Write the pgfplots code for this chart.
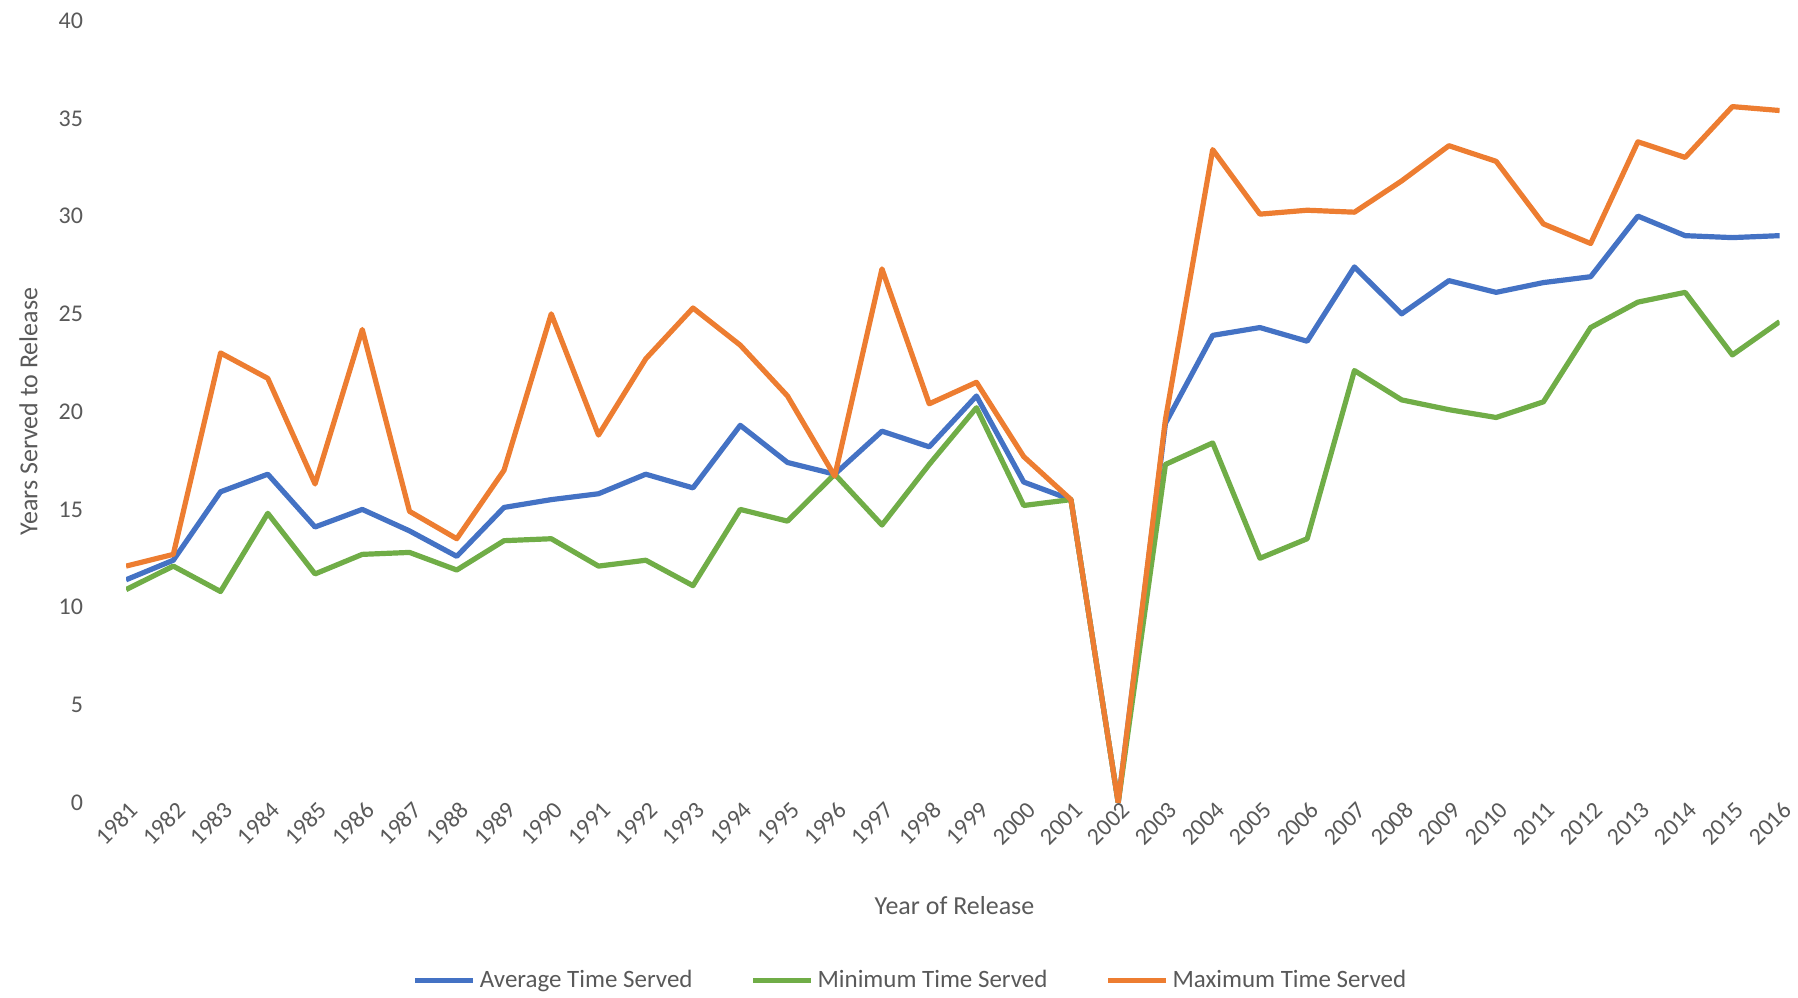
\documentclass[border=0pt]{standalone}
\usepackage{pgfplots}
\pgfplotsset{compat=1.18}
\usepackage{fontspec}
\setmainfont{Carlito}
\definecolor{txt}{HTML}{595959}
\definecolor{cblue}{HTML}{4472C4}
\definecolor{cgreen}{HTML}{70AD47}
\definecolor{corange}{HTML}{ED7D31}
\begin{document}
\begin{tikzpicture}
\begin{axis}[
  scale only axis,
  width=827.7pt, height=391.5pt,
  xmin=1981, xmax=2016, ymin=0, ymax=40,
  xtick={1981,...,2016},
  ytick={0,5,...,40},
  /pgf/number format/assume math mode=true,
  /pgf/number format/1000 sep={},
  axis line style={draw=none},
  tick style={draw=none},
  font=\fontsize{12}{14}\selectfont\color{txt},
  yticklabel style={anchor=east, xshift=-18pt},
  xticklabel style={rotate=45, anchor=east, xshift=5pt, yshift=-4pt},
  xlabel={Year of Release},
  ylabel={Years Served to Release},
  xlabel style={at={(axis description cs:0.501,-0.132)}, anchor=center, font=\fontsize{13}{15}\selectfont\color{txt}},
  ylabel style={at={(axis description cs:-0.059,0.5)}, anchor=center, font=\fontsize{13}{15}\selectfont\color{txt}},
  legend style={at={(axis description cs:0.475,-0.227)}, anchor=center, draw=none, fill=none,
    legend columns=3, font=\fontsize{12.5}{15}\selectfont\color{txt},
    /tikz/every even column/.append style={column sep=27pt}},
  legend image code/.code={\draw[#1] (0pt,0pt) -- (29pt,0pt);},
  every axis plot/.append style={line width=2.6pt, line join=round},
]
\addplot[cblue] coordinates {
(1981,11.4) (1982,12.4) (1983,15.9) (1984,16.8) (1985,14.1) (1986,15.0) (1987,13.9) (1988,12.6)
(1989,15.1) (1990,15.5) (1991,15.8) (1992,16.8) (1993,16.1) (1994,19.3) (1995,17.4) (1996,16.8)
(1997,19.0) (1998,18.2) (1999,20.8) (2000,16.4) (2001,15.5) (2002,0) (2003,19.4) (2004,23.9)
(2005,24.3) (2006,23.6) (2007,27.4) (2008,25.0) (2009,26.7) (2010,26.1) (2011,26.6) (2012,26.9)
(2013,30.0) (2014,29.0) (2015,28.9) (2016,29.0)
};
\addlegendentry{Average Time Served}
\addplot[cgreen] coordinates {
(1981,10.9) (1982,12.1) (1983,10.8) (1984,14.8) (1985,11.7) (1986,12.7) (1987,12.8) (1988,11.9)
(1989,13.4) (1990,13.5) (1991,12.1) (1992,12.4) (1993,11.1) (1994,15.0) (1995,14.4) (1996,16.8)
(1997,14.2) (1998,17.3) (1999,20.2) (2000,15.2) (2001,15.5) (2002,0) (2003,17.3) (2004,18.4)
(2005,12.5) (2006,13.5) (2007,22.1) (2008,20.6) (2009,20.1) (2010,19.7) (2011,20.5) (2012,24.3)
(2013,25.6) (2014,26.1) (2015,22.9) (2016,24.6)
};
\addlegendentry{Minimum Time Served}
\addplot[corange] coordinates {
(1981,12.1) (1982,12.7) (1983,23.0) (1984,21.7) (1985,16.3) (1986,24.2) (1987,14.9) (1988,13.5)
(1989,17.0) (1990,25.0) (1991,18.8) (1992,22.7) (1993,25.3) (1994,23.4) (1995,20.8) (1996,16.7)
(1997,27.3) (1998,20.4) (1999,21.5) (2000,17.7) (2001,15.5) (2002,0) (2003,19.6) (2004,33.4)
(2005,30.1) (2006,30.3) (2007,30.2) (2008,31.8) (2009,33.6) (2010,32.8) (2011,29.6) (2012,28.6)
(2013,33.8) (2014,33.0) (2015,35.6) (2016,35.4)
};
\addlegendentry{Maximum Time Served}
\end{axis}
\pgfresetboundingbox
\path[use as bounding box] (-63.1pt,-97.6pt) rectangle (836.9pt,401.8pt);
\end{tikzpicture}
\end{document}
